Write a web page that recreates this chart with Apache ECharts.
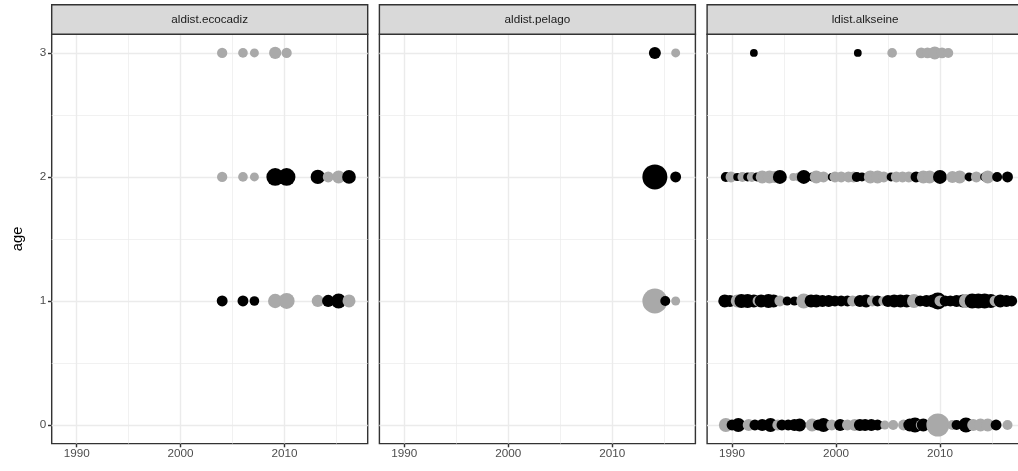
<!DOCTYPE html>
<html><head><meta charset="utf-8">
<script src="https://cdn.jsdelivr.net/npm/echarts@6/dist/echarts.min.js"></script>
<style>html,body{margin:0;padding:0;background:#fff}#c{width:1018px;height:471px}</style>
</head><body><div id="c"></div>
<script>
// ---------------- data ----------------
const panelNames = ['aldist.ecocadiz', 'aldist.pelago', 'ldist.alkseine'];
const xTicks = [1990, 2000, 2010];
const xMinorTicks = [1995, 2005, 2015];
const yTicks = [0, 1, 2, 3];
const yMinorTicks = [0.5, 1.5, 2.5];
const xRange = [1987.6, 2018.0];
const yRange = [-0.15, 3.15];

// each point: [year, magnitude, sign]  (sign 1 = black, 0 = grey)
const ecocadizAge3 = [[2004.0,.15,0],[2006.0,.13,0],[2007.1,.11,0],[2009.1,.22,0],[2010.2,.15,0]];
const ecocadizAge2 = [[2004.0,.15,0],[2006.0,.13,0],[2007.1,.11,0],[2009.1,.48,1],[2010.2,.48,1],[2013.2,.31,1],[2014.2,.17,0],[2015.2,.25,0],[2016.2,.28,1]];
const ecocadizAge1 = [[2004.0,.17,1],[2006.0,.17,1],[2007.1,.13,1],[2009.1,.31,0],[2010.2,.39,0],[2013.2,.22,0],[2014.2,.22,1],[2015.2,.34,1],[2016.2,.25,0]];

const pelagoAge3 = [[2014.1,.21,1],[2016.1,.11,0]];
const pelagoAge2 = [[2014.1,1.0,1],[2016.1,.17,1]];
const pelagoAge1 = [[2014.1,1.0,0],[2015.1,.14,1],[2016.1,.11,0]];

const alkseineAge3 = [[1992.1,.08,1],[2002.1,.08,1],[2005.4,.13,0],[2008.2,.17,0],[2008.8,.17,0],[2009.5,.25,0],[2010.2,.17,0],[2010.8,.14,0]];
const alkseineAge2 = [[1989.4,.14,1],[1989.9,.17,0],[1990.5,.085,1],[1991.0,.14,0],[1991.5,.11,1],[1991.9,.14,0],[1992.4,.11,1],[1992.9,.25,0],[1993.6,.25,0],[1994.1,.21,0],[1994.6,.29,1],[1995.9,.085,0],[1996.4,.11,0],[1996.9,.29,1],[1997.7,.11,1],[1998.1,.25,0],[1998.8,.17,0],[1999.6,.085,1],[1999.9,.17,0],[2000.5,.17,0],[2001.2,.17,0],[2001.7,.17,0],[2002.0,.14,1],[2002.5,.11,1],[2003.3,.25,0],[2004.0,.25,0],[2004.6,.17,0],[2005.3,.11,1],[2005.8,.17,0],[2006.4,.17,0],[2007.0,.17,0],[2007.7,.17,1],[2008.4,.25,0],[2009.0,.25,0],[2010.0,.29,1],[2011.2,.21,0],[2011.9,.25,0],[2012.8,.11,1],[2013.5,.17,0],[2014.3,.11,1],[2014.6,.25,0],[2015.5,.14,1],[2016.5,.17,1]];
const alkseineAge1 = [[1989.3,.25,1],[1989.8,.21,1],[1990.5,.25,0],[1990.9,.29,1],[1991.5,.29,1],[1992.1,.25,1],[1992.5,.17,0],[1992.8,.25,1],[1993.5,.29,1],[1994.0,.25,1],[1994.6,.17,0],[1995.3,.11,1],[1996.0,.11,1],[1996.9,.34,0],[1997.6,.25,1],[1998.1,.25,1],[1998.7,.21,1],[1999.3,.21,1],[1999.9,.17,1],[2000.5,.17,1],[2001.1,.17,1],[2001.6,.17,0],[2002.3,.21,1],[2002.9,.25,1],[2003.5,.17,0],[2004.0,.17,1],[2004.5,.11,0],[2005.0,.21,1],[2005.6,.25,1],[2006.2,.25,1],[2006.8,.25,1],[2007.5,.29,0],[2008.1,.17,1],[2008.7,.21,1],[2009.3,.25,1],[2009.8,.44,1],[2010.0,.17,0],[2010.5,.17,1],[2011.0,.17,1],[2011.6,.21,1],[2012.2,.25,1],[2012.5,.29,0],[2013.1,.34,1],[2013.7,.34,1],[2014.3,.34,1],[2014.9,.29,1],[2015.3,.17,0],[2015.8,.25,1],[2016.4,.21,1],[2016.9,.17,1]];
const alkseineAge0 = [[1989.4,.29,0],[1990.0,.17,1],[1990.6,.29,1],[1991.6,.21,0],[1992.2,.17,1],[1992.9,.21,1],[1993.7,.29,1],[1994.4,.17,0],[1994.8,.17,1],[1995.4,.17,1],[1996.0,.21,1],[1996.5,.25,1],[1997.7,.25,0],[1998.3,.17,1],[1998.8,.29,1],[1999.6,.17,0],[2000.4,.21,1],[2001.1,.17,0],[2001.8,.21,0],[2002.3,.21,1],[2002.8,.21,1],[2003.4,.21,1],[2004.0,.17,1],[2004.7,.11,0],[2005.5,.14,0],[2006.5,.17,0],[2007.1,.25,1],[2007.6,.34,1],[2008.2,.17,0],[2008.4,.25,1],[2009.8,.84,0],[2011.2,.14,0],[2011.6,.14,1],[2012.5,.34,1],[2013.2,.21,0],[2013.9,.25,0],[2014.6,.25,0],[2015.4,.17,1],[2016.5,.14,0]];

const panelData = [
  {3: ecocadizAge3, 2: ecocadizAge2, 1: ecocadizAge1},
  {3: pelagoAge3, 2: pelagoAge2, 1: pelagoAge1},
  {3: alkseineAge3, 2: alkseineAge2, 1: alkseineAge1, 0: alkseineAge0}
];

// ---------------- layout ----------------
const panelLeft = [51.7, 379.4, 707.1];
const panelW = 316;
const panelTop = 34.3, panelBottom = 443.6;
const stripTop = 4.7;
const FONT = '"Liberation Sans", Arial, sans-serif';
const LW = 1.42;

const chart = echarts.init(document.getElementById('c'), null, {renderer: 'canvas'});

const grids = [], xAxes = [], yAxes = [], series = [], graphics = [];
panelNames.forEach((name, i) => {
  grids.push({left: panelLeft[i], top: panelTop, width: panelW, height: panelBottom - panelTop,
    show: true, backgroundColor: '#fff', borderColor: '#333333', borderWidth: LW,
    containLabel: false, outerBoundsMode: 'none'});
  xAxes.push({type: 'value', gridIndex: i, min: xRange[0], max: xRange[1], position: 'bottom',
    axisLine: {show: false, onZero: false}, splitLine: {show: false},
    axisTick: {show: true, length: 3.7, customValues: xTicks, lineStyle: {color: '#333333', width: LW}},
    axisLabel: {show: true, customValues: xTicks, margin: 4.5, color: '#4D4D4D', fontSize: 11.7, fontFamily: FONT,
      formatter: v => String(v)}});
  yAxes.push({type: 'value', gridIndex: i, min: yRange[0], max: yRange[1], position: 'left',
    axisLine: {show: false, onZero: false}, splitLine: {show: false},
    axisTick: {show: i === 0, length: 3.7, customValues: yTicks, lineStyle: {color: '#333333', width: LW}},
    axisLabel: {show: i === 0, customValues: yTicks, margin: 5.5, color: '#4D4D4D', fontSize: 11.7, fontFamily: FONT,
      formatter: v => String(v)}});
  // grid lines
  const ml = [];
  xMinorTicks.forEach(v => ml.push({xAxis: v, lineStyle: {width: LW / 2}}));
  yMinorTicks.forEach(v => ml.push({yAxis: v, lineStyle: {width: LW / 2}}));
  xTicks.forEach(v => ml.push({xAxis: v, lineStyle: {width: LW}}));
  yTicks.forEach(v => ml.push({yAxis: v, lineStyle: {width: LW}}));
  series.push({type: 'scatter', xAxisIndex: i, yAxisIndex: i, data: [], z: 1, silent: true,
    markLine: {z: 1, silent: true, animation: false, symbol: ['none', 'none'], label: {show: false},
      lineStyle: {color: '#EBEBEB', type: 'solid'}, emphasis: {disabled: true}, data: ml}});
  // points
  const pts = [];
  [3, 2, 1, 0].forEach(age => {
    (panelData[i][age] || []).forEach(p => pts.push([p[0], age, p[1], p[2]]));
  });
  series.push({type: 'scatter', xAxisIndex: i, yAxisIndex: i, z: 10, animation: false,
    data: pts, symbol: 'circle',
    symbolSize: d => 24 * Math.sqrt(d[2]) + 1,
    itemStyle: {opacity: 1, color: p => p.data[3] ? '#000000' : '#A9A9A9'},
    emphasis: {disabled: true}});
  // strip
  graphics.push({type: 'rect', shape: {x: panelLeft[i], y: stripTop, width: panelW, height: panelTop - stripTop},
    style: {fill: '#D9D9D9', stroke: '#333333', lineWidth: LW}, z: 100});
  graphics.push({type: 'text', x: panelLeft[i] + panelW / 2, y: (stripTop + panelTop) / 2,
    style: {text: name, fill: '#1A1A1A', font: '11.7px ' + FONT, align: 'center', verticalAlign: 'middle'}, z: 101});
});
graphics.push({type: 'text', x: 18, y: (panelTop + panelBottom) / 2, rotation: Math.PI / 2,
  style: {text: 'age', fill: '#000000', font: '14.7px ' + FONT, align: 'center', verticalAlign: 'middle'}, z: 101});

chart.setOption({
  animation: false,
  backgroundColor: '#ffffff',
  grid: grids, xAxis: xAxes, yAxis: yAxes, series: series, graphic: graphics
});
</script></body></html>
